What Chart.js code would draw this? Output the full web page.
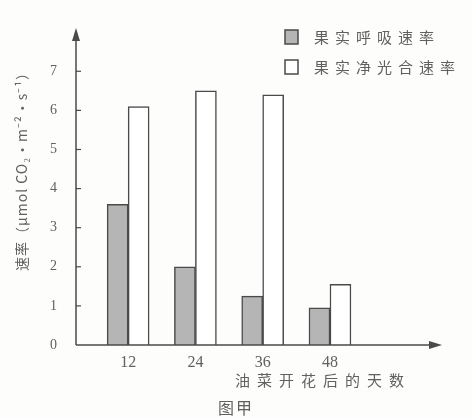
<!DOCTYPE html>
<html>
<head>
<meta charset="utf-8">
<script src="https://cdn.jsdelivr.net/npm/chart.js@4"></script>
<style>
  html, body { margin: 0; padding: 0; background: #fdfdfc; }
  #wrap { width: 472px; height: 419px; position: relative; }
</style>
</head>
<body>
<div id="wrap"><canvas id="chart"></canvas></div>
<script>
// days after rape flowering
const days = [12, 24, 36, 48];
const respiration = [3.6, 2.0, 1.25, 0.95];
const netPhotosynthesis = [6.1, 6.5, 6.4, 1.55];
const yTicks = [0, 1, 2, 3, 4, 5, 6, 7];
const legendLabels = ["果实呼吸速率", "果实净光合速率"];
const yTitle = "速率（μmol CO₂·m⁻²·s⁻¹）";
const xTitle = "油菜开花后的天数";
const caption = "图甲";

const INK = "#4a4a4a";
const TEXT = "#606060";

// arrows, inward ticks, titles and legend
const decor = {
  id: "decor",
  afterDraw(chart) {
    const { ctx, chartArea: a, scales } = chart;
    const y = scales.y;
    ctx.save();
    ctx.strokeStyle = INK;
    ctx.fillStyle = INK;
    ctx.lineWidth = 1.5;

    // y axis line + arrow
    ctx.beginPath();
    ctx.moveTo(a.left, a.bottom);
    ctx.lineTo(a.left, a.top - 4);
    ctx.stroke();
    ctx.beginPath();
    ctx.moveTo(a.left, a.top - 12);
    ctx.lineTo(a.left - 4, a.top + 1);
    ctx.lineTo(a.left + 4, a.top + 1);
    ctx.closePath();
    ctx.fill();

    // x axis arrow
    ctx.beginPath();
    ctx.moveTo(a.left, a.bottom);
    ctx.lineTo(a.right, a.bottom);
    ctx.stroke();
    ctx.beginPath();
    ctx.moveTo(a.right + 10, a.bottom);
    ctx.lineTo(a.right - 3, a.bottom - 4);
    ctx.lineTo(a.right - 3, a.bottom + 4);
    ctx.closePath();
    ctx.fill();

    // tick marks pointing inward
    ctx.lineWidth = 1.2;
    yTicks.slice(1).forEach((v) => {
      const py = y.getPixelForValue(v);
      ctx.beginPath();
      ctx.moveTo(a.left, py);
      ctx.lineTo(a.left + 5, py);
      ctx.stroke();
    });

    // y title
    ctx.fillStyle = TEXT;
    ctx.letterSpacing = "1px";
    ctx.font = "14px 'Noto Sans CJK SC'";
    ctx.textAlign = "center";
    ctx.textBaseline = "middle";
    ctx.translate(22, 168);
    ctx.rotate(-Math.PI / 2);
    ctx.fillText(yTitle, 0, 0);
    ctx.setTransform(1, 0, 0, 1, 0, 0);

    // x title and caption
    ctx.letterSpacing = "7px";
    ctx.font = "15px 'Noto Sans CJK SC'";
    ctx.textAlign = "left";
    ctx.fillText(xTitle, 235, 380);
    ctx.letterSpacing = "2px";
    ctx.font = "16px 'Noto Sans CJK SC'";
    ctx.fillText(caption, 218, 408);

    // legend
    ctx.letterSpacing = "6px";
    ctx.font = "15px 'Noto Sans CJK SC'";
    const items = [
      { y: 37, fill: "#b5b5b5" },
      { y: 67, fill: "#ffffff" },
    ];
    items.forEach((it, i) => {
      ctx.fillStyle = it.fill;
      ctx.fillRect(285, it.y - 7, 13, 14);
      ctx.strokeStyle = INK;
      ctx.lineWidth = 1.5;
      ctx.strokeRect(285, it.y - 7, 13, 14);
      ctx.fillStyle = TEXT;
      ctx.fillText(legendLabels[i], 314, it.y);
    });
    ctx.restore();
  },
};

new Chart(document.getElementById("chart"), {
  type: "bar",
  data: {
    datasets: [
      {
        label: legendLabels[0],
        data: days.map((d, i) => ({ x: d, y: respiration[i] })),
        backgroundColor: "#b5b5b5",
        borderColor: INK,
        borderWidth: 1.5,
        barThickness: 21,
      },
      {
        label: legendLabels[1],
        data: days.map((d, i) => ({ x: d, y: netPhotosynthesis[i] })),
        backgroundColor: "#ffffff",
        borderColor: INK,
        borderWidth: 1.5,
        barThickness: 21,
      },
    ],
  },
  options: {
    responsive: true,
    maintainAspectRatio: false,
    animation: false,
    layout: { padding: { top: 40, right: 40, left: 0, bottom: 0 } },
    plugins: {
      legend: { display: false },
      tooltip: { enabled: false },
    },
    scales: {
      x: {
        type: "linear",
        offset: false,
        min: 2.7,
        max: 66.2,
        afterBuildTicks: (scale) => {
          scale.ticks = days.map((d) => ({ value: d }));
        },
        afterFit: (scale) => {
          scale.height = 74;
        },
        grid: { display: false, offset: false },
        border: { display: false },
        ticks: {
          color: TEXT,
          padding: 0,
          font: { family: "'Liberation Serif'", size: 16 },
        },
      },
      y: {
        min: 0,
        max: 7.8,
        afterBuildTicks: (scale) => {
          scale.ticks = yTicks.map((v) => ({ value: v }));
        },
        afterFit: (scale) => {
          scale.width = 76;
        },
        grid: { display: false },
        border: { display: false },
        ticks: {
          color: TEXT,
          padding: 11,
          font: { family: "'Liberation Serif'", size: 14 },
        },
      },
    },
  },
  plugins: [decor],
});
</script>
</body>
</html>
